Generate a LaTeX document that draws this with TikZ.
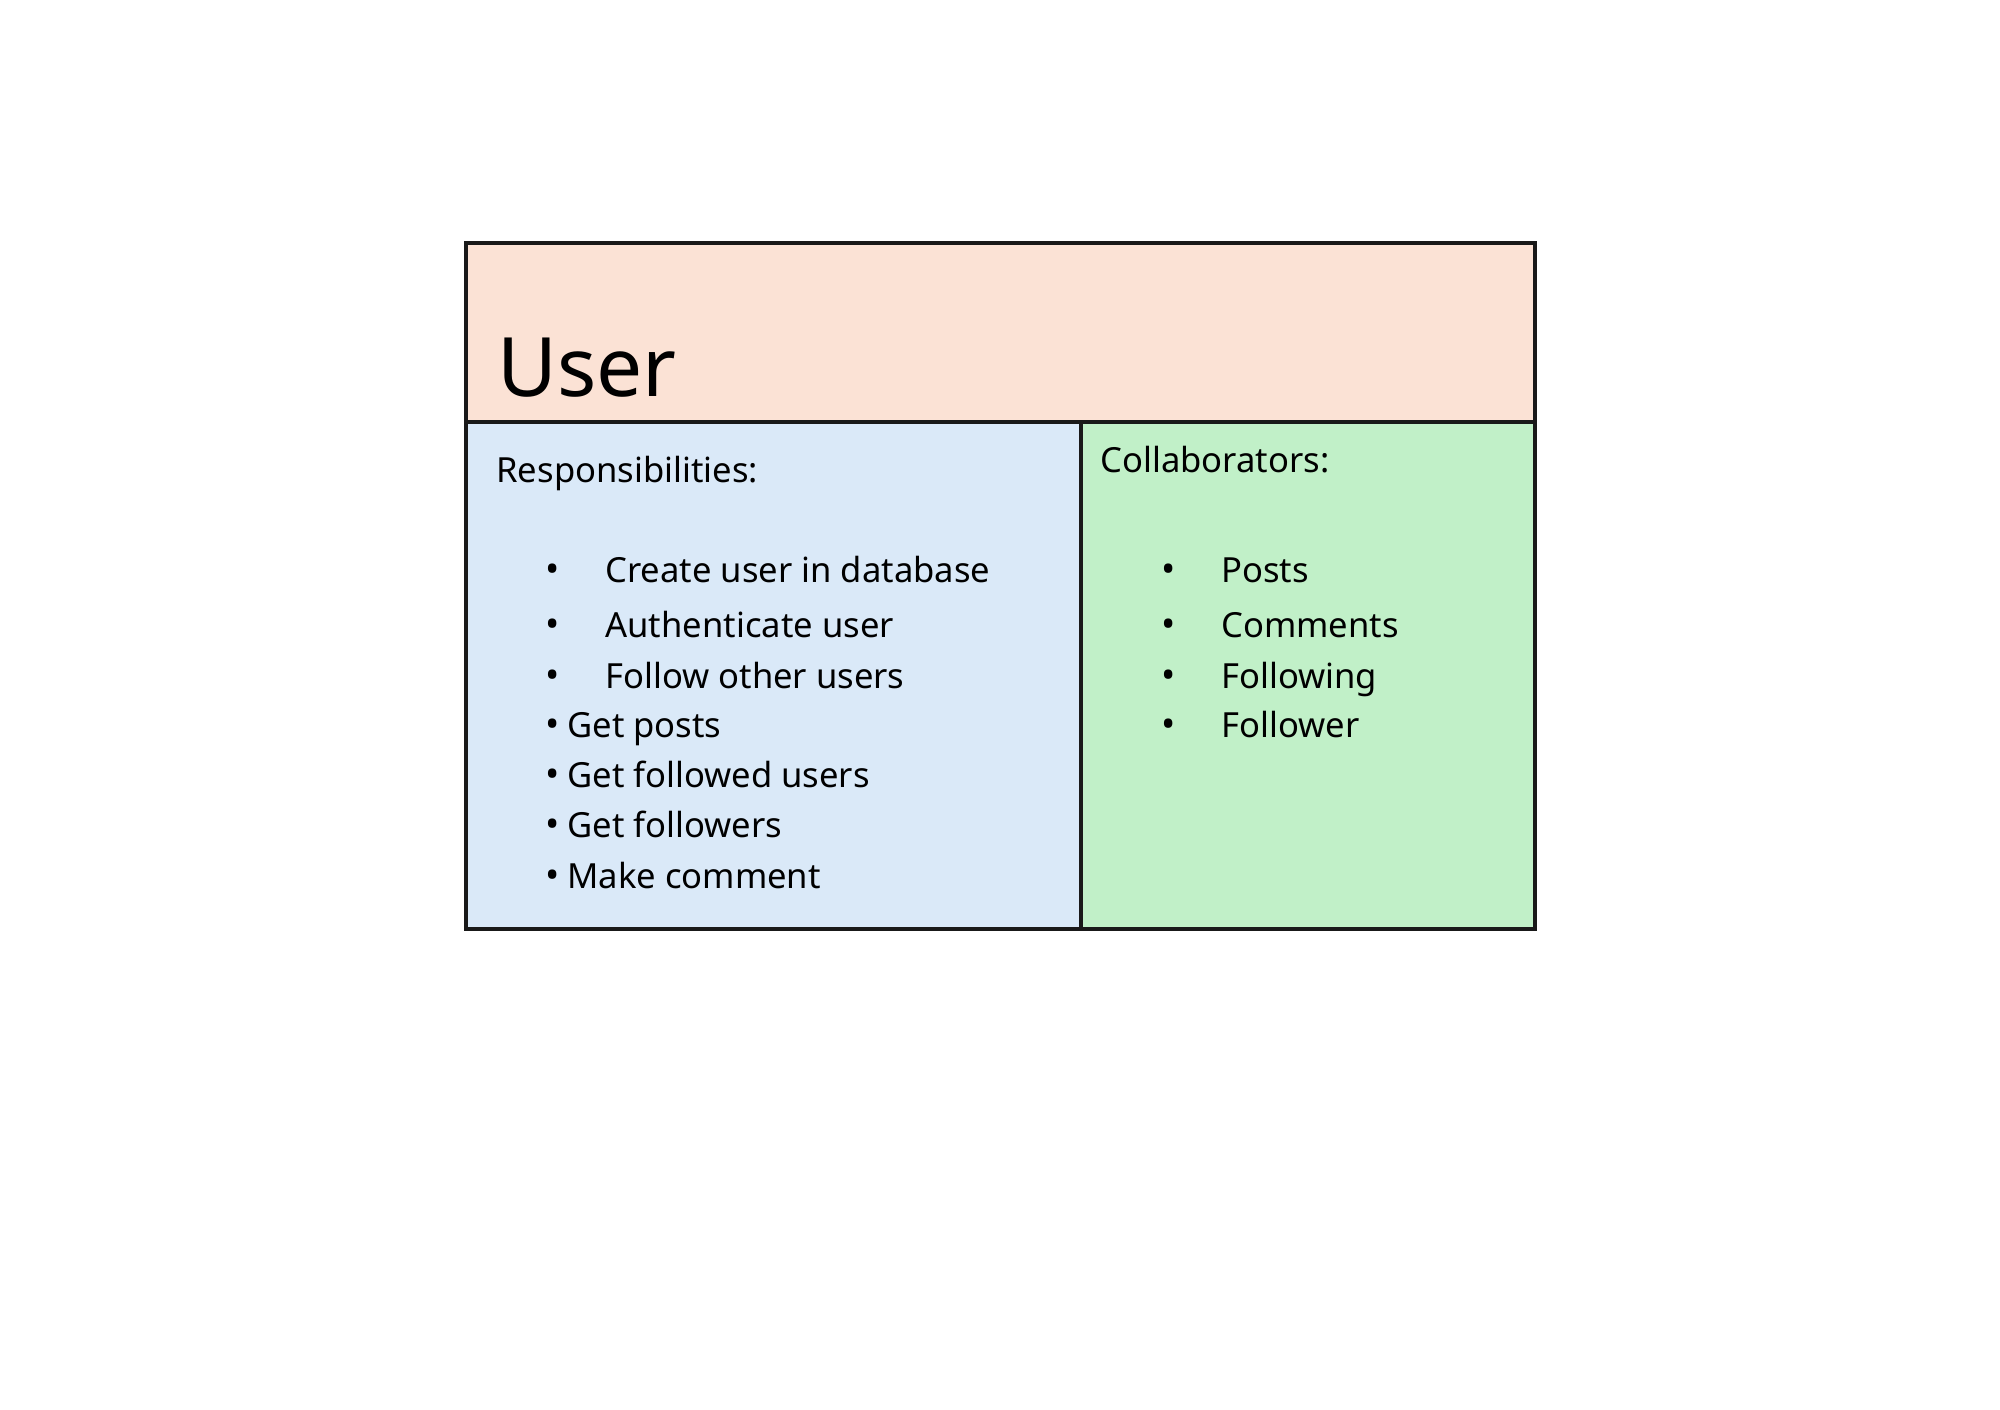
\documentclass[tikz,border=0pt]{standalone}
\usepackage{fontspec}
\setmainfont{Noto Sans}
\usepackage{xcolor}
\definecolor{headfill}{HTML}{FBE2D5}
\definecolor{respfill}{HTML}{DAE9F8}
\definecolor{collfill}{HTML}{C1F0C8}
\begin{document}
\begin{tikzpicture}[x=0.5pt, y=-0.5pt,
        every node/.style={inner sep=0pt, anchor=base west, font=\fontsize{17.3}{21}\selectfont},
        dot/.style={anchor=base, font=\fontsize{19}{21}\selectfont},
        cell/.style={draw=black!90, line width=1.6pt}]
            \useasboundingbox (0,0) rectangle (2000,1409);
            \fill[white] (0,0) rectangle (2000,1409);

            \draw[cell, fill=headfill] (466,243) rectangle (1535,422);
            \draw[cell, fill=respfill] (466,422) rectangle (1081,929);
            \draw[cell, fill=collfill] (1081,422) rectangle (1535,929);

            \node[font=\fontsize{41}{50}\selectfont] (title) at (497,396) {User};
            \node (resp) at (496,482) {Responsibilities:};
            \node (coll) at (1100,472) {Collaborators:};

            \node[dot] (rb1) at (553,582) {•};
            \node[dot] (rb2) at (553,637) {•};
            \node[dot] (rb3) at (553,688) {•};
            \node[dot] (rb4) at (553,737) {•};
            \node[dot] (rb5) at (553,787) {•};
            \node[dot] (rb6) at (553,837) {•};
            \node[dot] (rb7) at (553,888) {•};
            \node (r1) at (605,582) {Create user in database};
            \node (r2) at (605,637) {Authenticate user};
            \node (r3) at (605,688) {Follow other users};
            \node (r4) at (567,737) {Get posts};
            \node (r5) at (567,787) {Get followed users};
            \node (r6) at (567,837) {Get followers};
            \node (r7) at (567,888) {Make comment};

            \node[dot] (cb1) at (1169,582) {•};
            \node[dot] (cb2) at (1169,637) {•};
            \node[dot] (cb3) at (1169,688) {•};
            \node[dot] (cb4) at (1169,737) {•};
            \node (c1) at (1221,582) {Posts};
            \node (c2) at (1221,637) {Comments};
            \node (c3) at (1221,688) {Following};
            \node (c4) at (1221,737) {Follower};
        \end{tikzpicture}
\end{document}
